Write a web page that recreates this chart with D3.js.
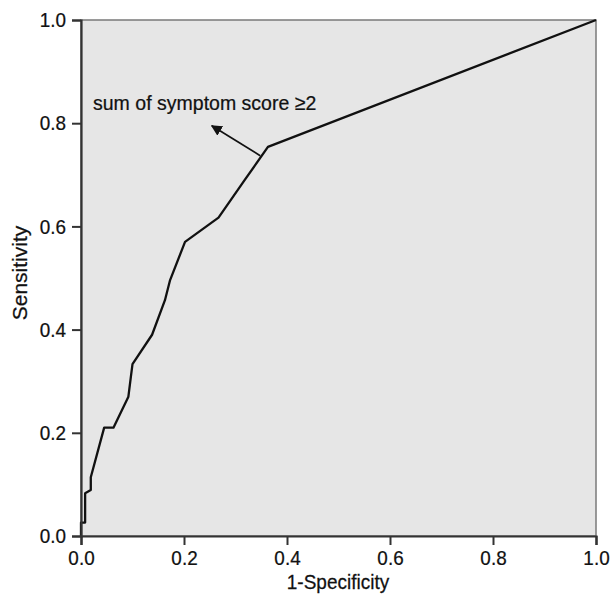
<!DOCTYPE html>
<html>
<head>
<meta charset="utf-8">
<script src="https://cdn.jsdelivr.net/npm/d3@7"></script>
<style>
body { margin: 0; background: #fff; }
text { font-family: "Liberation Sans", Arial, sans-serif; fill: #111; stroke: #111; stroke-width: 0.25px; }
</style>
</head>
<body>
<svg id="roc" width="612" height="595"></svg>
<script>
// ROC curve points
var fpr = [0, 0, 0.008, 0.008, 0.019, 0.019, 0.045, 0.063, 0.092, 0.097, 0.1, 0.138, 0.163, 0.173, 0.202, 0.267, 0.318, 0.363, 1];
var tpr = [0, 0.026, 0.026, 0.083, 0.089, 0.114, 0.21, 0.21, 0.27, 0.31, 0.333, 0.39, 0.457, 0.496, 0.570, 0.617, 0.690, 0.754, 1];
var tickVals = [0, 0.2, 0.4, 0.6, 0.8, 1.0];
var label = "sum of symptom score \u22652";
var arrowFrom = [0.348, 0.737];
var arrowTo = [0.254, 0.795];

var svg = d3.select("#roc");

var x = d3.scaleLinear().domain([0, 1]).range([81, 596]);
var y = d3.scaleLinear().domain([0, 1]).range([536, 20]);

// plot background + frame
svg.append("rect")
	.attr("x", x(0)).attr("y", y(1))
	.attr("width", x(1) - x(0)).attr("height", y(0) - y(1))
	.attr("fill", "#e6e6e6")
	.attr("stroke", "#7a7a7a")
	.attr("stroke-width", 1.5);

var pts = fpr.map(function(d, i) { return [d, tpr[i]]; });

svg.append("path")
	.datum(pts)
	.attr("fill", "none")
	.attr("stroke", "#111")
	.attr("stroke-width", 2.3)
	.attr("stroke-linejoin", "round")
	.attr("d", d3.line()
		.x(function(d) { return x(d[0]); })
		.y(function(d) { return y(d[1]); }));

// axes
var fmt = d3.format(".1f");
var xAxis = svg.append("g")
	.attr("transform", "translate(0," + y(0) + ")")
	.call(d3.axisBottom(x).tickValues(tickVals).tickFormat(fmt).tickSizeOuter(0).tickSize(9).tickPadding(5));
var yAxis = svg.append("g")
	.attr("transform", "translate(" + x(0) + ",0)")
	.call(d3.axisLeft(y).tickValues(tickVals).tickFormat(fmt).tickSizeOuter(0).tickSize(9).tickPadding(6));

[xAxis, yAxis].forEach(function(a) {
	a.select(".domain").attr("stroke", "#333").attr("stroke-width", 2.2);
	a.selectAll(".tick line").attr("stroke", "#333").attr("stroke-width", 2);
	a.selectAll(".tick text")
		.attr("font-size", 21)
		.attr("fill", "#111")
		.style("font-family", "'Liberation Sans', Arial, sans-serif");
});
xAxis.selectAll(".tick text").attr("dy", "0.71em");
xAxis.selectAll(".tick text").attr("transform", "scale(0.9,1)").attr("x", 0);
yAxis.selectAll(".tick text").attr("transform", "translate(-15,0) scale(0.9,1) translate(15,0)");

// axis titles
svg.append("text")
	.attr("transform", "translate(338,589) scale(0.95,1)")
	.attr("text-anchor", "middle")
	.attr("font-size", 20)
	.text("1-Specificity");

svg.append("text")
	.attr("transform", "translate(27,273) rotate(-90)")
	.attr("text-anchor", "middle")
	.attr("font-size", 21)
	.text("Sensitivity");

// annotation
svg.append("defs").append("marker")
	.attr("id", "ah")
	.attr("viewBox", "0 0 10 10")
	.attr("refX", 9).attr("refY", 5)
	.attr("markerWidth", 11).attr("markerHeight", 11)
	.attr("markerUnits", "userSpaceOnUse")
	.attr("orient", "auto")
	.append("path")
	.attr("d", "M0,0 L10,5 L0,10 z")
	.attr("fill", "#111");

svg.append("line")
	.attr("x1", x(arrowFrom[0])).attr("y1", y(arrowFrom[1]))
	.attr("x2", x(arrowTo[0])).attr("y2", y(arrowTo[1]))
	.attr("stroke", "#111")
	.attr("stroke-width", 1.7)
	.attr("marker-end", "url(#ah)");

svg.append("text")
	.attr("transform", "translate(93,110) scale(0.93,1)")
	.attr("font-size", 21)
	.text(label);
</script>
</body>
</html>
